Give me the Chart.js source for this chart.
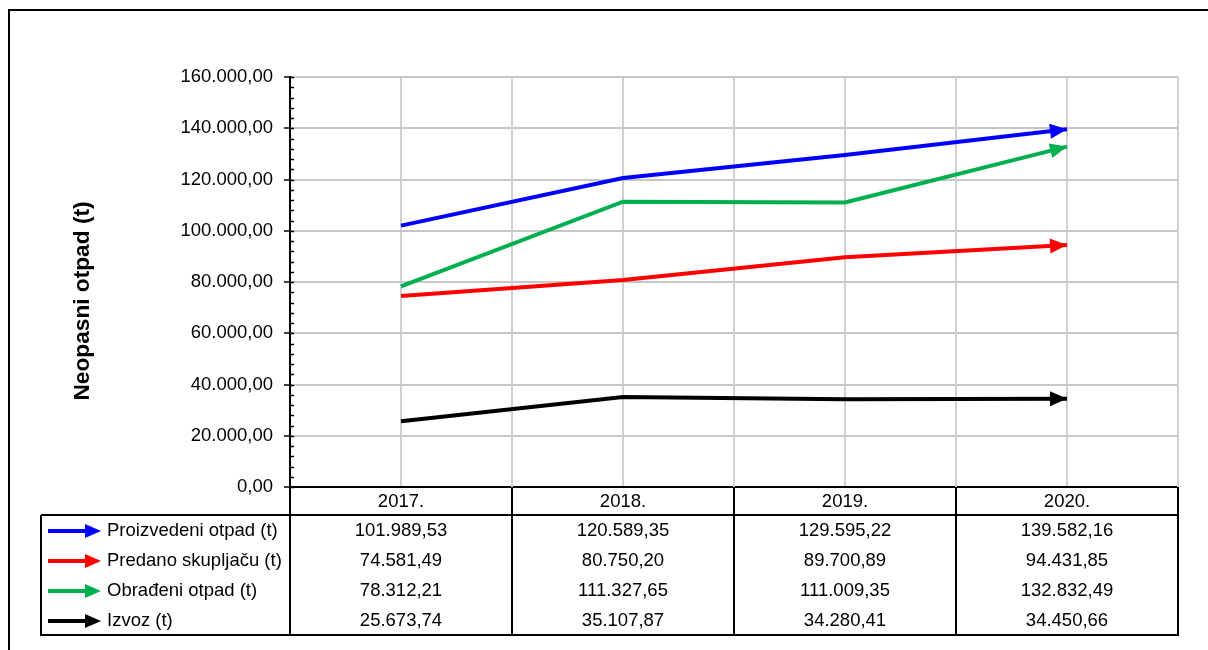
<!DOCTYPE html>
<html>
<head>
<meta charset="utf-8">
<script src="https://cdn.jsdelivr.net/npm/chart.js@4"></script>
<style>
  html, body { margin: 0; padding: 0; background: #fff; }
  #wrap { position: relative; width: 1208px; height: 650px; }
</style>
</head>
<body>
<div id="wrap"><canvas id="chart" width="1208" height="650"></canvas></div>
<script>
// years (x categories)
const years = ['2017.', '2018.', '2019.', '2020.'];

// series names + values (t)
const seriesNames = ['Proizvedeni otpad (t)', 'Predano skupljaču (t)', 'Obrađeni otpad (t)', 'Izvoz (t)'];
const proizvedeni = [101989.53, 120589.35, 129595.22, 139582.16];
const predano     = [74581.49, 80750.20, 89700.89, 94431.85];
const obradeni    = [78312.21, 111327.65, 111009.35, 132832.49];
const izvoz       = [25673.74, 35107.87, 34280.41, 34450.66];

const colors = ['#0000ff', '#ff0000', '#00b050', '#000000'];
const font = 'Liberation Sans, Arial, sans-serif';

// 160.000,00 style numbers
function fmt(v) {
  let parts = v.toFixed(2).split('.');
  let whole = parts[0].replace(/\B(?=(\d{3})+(?!\d))/g, '.');
  return whole + ',' + parts[1];
}

function arrowHead(ctx, x1, y1, x2, y2, len, half, color) {
  let a = Math.atan2(y2 - y1, x2 - x1);
  ctx.save();
  ctx.fillStyle = color;
  ctx.beginPath();
  ctx.moveTo(x2, y2);
  ctx.lineTo(x2 - len * Math.cos(a) + half * Math.sin(a), y2 - len * Math.sin(a) - half * Math.cos(a));
  ctx.lineTo(x2 - len * Math.cos(a) - half * Math.sin(a), y2 - len * Math.sin(a) + half * Math.cos(a));
  ctx.closePath();
  ctx.fill();
  ctx.restore();
}

const extras = {
  id: 'extras',
  beforeDraw(chart) {
    // outer frame, runs off the picture at right/bottom
    let ctx = chart.ctx;
    ctx.save();
    ctx.strokeStyle = '#000';
    ctx.lineWidth = 2;
    ctx.beginPath();
    ctx.moveTo(9, 660);
    ctx.lineTo(9, 10);
    ctx.lineTo(1220, 10);
    ctx.stroke();
    ctx.restore();
  },
  beforeDatasetsDraw(chart) {
    // gray lines between categories in the plot area
    let ctx = chart.ctx, x = chart.scales.x, area = chart.chartArea;
    ctx.save();
    ctx.strokeStyle = '#d0d0d0';
    ctx.lineWidth = 2;
    for (let i = 0; i < years.length; i++) {
      let xr = i < years.length - 1
        ? (x.getPixelForValue(i) + x.getPixelForValue(i + 1)) / 2
        : area.right;
      ctx.beginPath();
      ctx.moveTo(xr, area.top);
      ctx.lineTo(xr, area.bottom);
      ctx.stroke();
    }
    ctx.restore();
  },
  afterDatasetsDraw(chart) {
    chart.data.datasets.forEach((ds, i) => {
      let pts = chart.getDatasetMeta(i).data;
      let p1 = pts[pts.length - 2], p2 = pts[pts.length - 1];
      arrowHead(chart.ctx, p1.x, p1.y, p2.x, p2.y, 17, 7.5, ds.borderColor);
    });
  },
  afterDraw(chart) {
    let ctx = chart.ctx, x = chart.scales.x, y = chart.scales.y, area = chart.chartArea;
    ctx.save();
    // y minor ticks
    ctx.strokeStyle = '#000';
    ctx.lineWidth = 1.5;
    for (let v = 0; v <= 160000; v += 4000) {
      let py = Math.round(y.getPixelForValue(v)) + 0.5;
      ctx.beginPath();
      ctx.moveTo(area.left, py);
      ctx.lineTo(area.left + 4, py);
      ctx.stroke();
    }

    // data table
    let top = area.bottom, headBottom = area.bottom + 28, rowH = 30;
    let tableLeft = 41, bottom = headBottom + rowH * seriesNames.length;
    let bounds = [area.left];
    for (let i = 0; i < years.length - 1; i++) {
      bounds.push((x.getPixelForValue(i) + x.getPixelForValue(i + 1)) / 2);
    }
    bounds.push(area.right);

    ctx.lineWidth = 2;
    ctx.strokeStyle = '#000';
    ctx.beginPath();
    bounds.forEach(bx => { ctx.moveTo(bx, top); ctx.lineTo(bx, bottom); });
    ctx.moveTo(tableLeft, headBottom); ctx.lineTo(area.right, headBottom);
    ctx.moveTo(tableLeft, headBottom); ctx.lineTo(tableLeft, bottom);
    ctx.moveTo(tableLeft - 1, bottom); ctx.lineTo(area.right + 1, bottom);
    ctx.stroke();

    let all = [proizvedeni, predano, obradeni, izvoz];
    ctx.font = '18.5px ' + font;
    ctx.textBaseline = 'middle';
    ctx.fillStyle = '#000';
    all.forEach((vals, r) => {
      let cy = headBottom + rowH * r + rowH / 2 + 1;
      // legend key
      ctx.strokeStyle = colors[r];
      ctx.lineWidth = 4;
      ctx.beginPath();
      ctx.moveTo(48, cy);
      ctx.lineTo(88, cy);
      ctx.stroke();
      arrowHead(ctx, 48, cy, 101, cy, 16, 7, colors[r]);
      ctx.fillStyle = '#000';
      ctx.textAlign = 'left';
      ctx.fillText(seriesNames[r], 107, cy);
      ctx.textAlign = 'center';
      vals.forEach((v, c) => ctx.fillText(fmt(v), x.getPixelForValue(c), cy));
    });

    // y title
    ctx.translate(83, 301);
    ctx.rotate(-Math.PI / 2);
    ctx.font = 'bold 22.7px ' + font;
    ctx.textAlign = 'center';
    ctx.fillText('Neopasni otpad (t)', 0, 0);
    ctx.restore();
  }
};

const allData = [proizvedeni, predano, obradeni, izvoz];

new Chart(document.getElementById('chart'), {
  type: 'line',
  data: {
    labels: years,
    datasets: seriesNames.map((name, i) => ({
      label: name,
      data: allData[i],
      borderColor: colors[i],
      backgroundColor: colors[i],
      borderWidth: 4,
      pointRadius: 0,
      tension: 0,
      fill: false
    }))
  },
  options: {
    responsive: false,
    animation: false,
    layout: { padding: { top: 77, right: 30, left: 0, bottom: 0 } },
    plugins: { legend: { display: false }, tooltip: { enabled: false } },
    scales: {
      x: {
        offset: true,
        grid: { offset: false, color: '#d0d0d0', lineWidth: 2, drawTicks: false },
        border: { color: '#000', width: 2 },
        ticks: { color: '#000', font: { family: font, size: 18.5 }, padding: 4 },
        afterFit: s => { s.height = 163; }
      },
      y: {
        min: 0,
        max: 160000,
        grid: { color: '#c6c6c6', lineWidth: 2, tickLength: 6, tickColor: '#000', tickWidth: 1.5 },
        border: { color: '#000', width: 2 },
        ticks: {
          stepSize: 20000,
          color: '#000',
          padding: 11,
          font: { family: font, size: 18.5 },
          callback: v => fmt(v)
        },
        afterFit: s => { s.width = 290; }
      }
    }
  },
  plugins: [extras]
});
</script>
</body>
</html>
